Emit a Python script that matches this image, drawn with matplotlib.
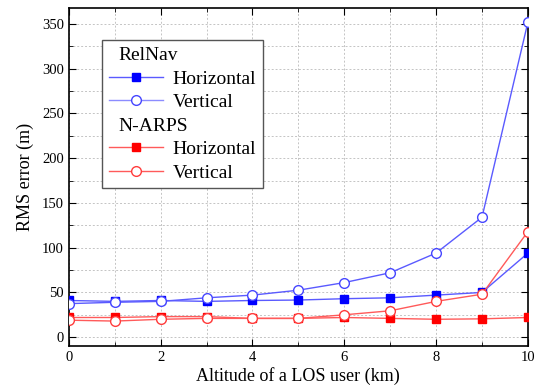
import matplotlib
matplotlib.use("Agg")
import matplotlib.pyplot as plt
from matplotlib.lines import Line2D
from matplotlib.ticker import MultipleLocator

plt.rcParams['font.family'] = ['Liberation Serif', 'DejaVu Serif']

# altitude of the LOS user (km)
altitude = [0, 1, 2, 3, 4, 5, 6, 7, 8, 9, 10]

# RMS errors (m)
relnav_h = [41, 40, 41, 40, 41, 41.5, 43, 44, 47, 50, 94]
relnav_v = [37.5, 39, 40, 44, 47, 52.5, 61, 72, 94, 134, 352]
narps_h = [22, 22, 23, 23, 21, 21, 22, 21, 20, 20.5, 22]
narps_v = [19, 18, 20, 21, 21, 21, 25, 29.5, 40, 48, 118]

fig = plt.figure(figsize=(5.42, 3.92), dpi=100)
ax = fig.add_axes([0.127, 0.117, 0.847, 0.863])

ax.plot(altitude, relnav_h, color='#5a5aff', lw=1, marker='s', ms=6,
        mfc='#0000ff', mec='#0000ff', zorder=3)
ax.plot(altitude, relnav_v, color='#5a5aff', lw=1, marker='o', ms=7,
        mfc='white', mec='#4646ff', zorder=3)
ax.plot(altitude, narps_h, color='#ff5a5a', lw=1, marker='s', ms=6,
        mfc='#ff0000', mec='#ff0000', zorder=3)
ax.plot(altitude, narps_v, color='#ff5a5a', lw=1, marker='o', ms=7,
        mfc='white', mec='#ff3c3c', zorder=3)

ax.set_xlim(0, 10)
ax.set_ylim(-10, 368)
ax.xaxis.set_major_locator(MultipleLocator(2))
ax.xaxis.set_minor_locator(MultipleLocator(1))
ax.yaxis.set_major_locator(MultipleLocator(50))
ax.yaxis.set_minor_locator(MultipleLocator(25))
ax.tick_params(which='both', direction='in', top=True, right=True, labelsize=10.5)
ax.tick_params(which='major', length=5)
ax.tick_params(which='minor', length=3)
ax.grid(which='both', color='#c4c4c4', linestyle=(0, (2, 2)), lw=0.7)
for s in ax.spines.values():
    s.set_linewidth(1.2)

ax.set_xlabel('Altitude of a LOS user (km)', fontsize=13, labelpad=2)
ax.set_ylabel('RMS error (m)', fontsize=13, labelpad=6)

blank = Line2D([], [], linestyle='none')
handles = [
    blank,
    Line2D([], [], color='#5a5aff', lw=1, marker='s', ms=6, mfc='#0000ff', mec='#0000ff'),
    Line2D([], [], color='#8c8cff', lw=1, marker='o', ms=7, mfc='white', mec='#4646ff'),
    blank,
    Line2D([], [], color='#ff5a5a', lw=1, marker='s', ms=6, mfc='#ff0000', mec='#ff0000'),
    Line2D([], [], color='#ff5a5a', lw=1, marker='o', ms=7, mfc='white', mec='#ff3c3c'),
]
labels = ['RelNav', 'Horizontal', 'Vertical', 'N-ARPS', 'Horizontal', 'Vertical']
leg = ax.legend(handles, labels, loc='upper left', bbox_to_anchor=(0.072, 0.905),
                borderaxespad=0, fontsize=14, fancybox=False, edgecolor='#555555',
                framealpha=1, handlelength=2.8, handletextpad=0.5, labelspacing=0.3,
                borderpad=0.35)
leg.get_frame().set_linewidth(1)
# header rows: no handle, text starts at the left
rows = leg._legend_handle_box.get_children()[0].get_children()
for i in (0, 3):
    rows[i].get_children()[0].set_width(0)

fig.savefig('out.png', dpi=100)
